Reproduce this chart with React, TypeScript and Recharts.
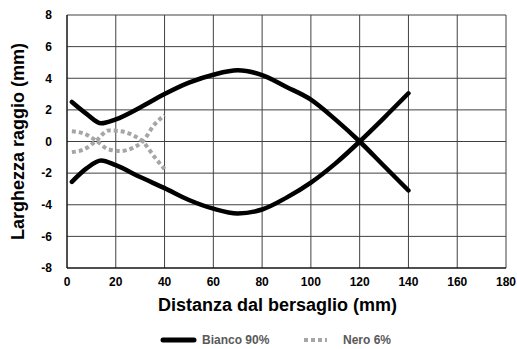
import { CartesianGrid, Label, Legend, Line, LineChart, XAxis, YAxis } from 'recharts'

const distanzaBianco = [2, 8, 14, 20, 30, 40, 50, 60, 70, 80, 90, 100, 110, 120, 130, 140]
const biancoSopra = [2.5, 1.75, 1.15, 1.4, 2.15, 3.0, 3.72, 4.22, 4.5, 4.2, 3.45, 2.65, 1.4, 0, -1.55, -3.1]
const biancoSotto = [-2.55, -1.7, -1.2, -1.5, -2.25, -2.95, -3.7, -4.25, -4.55, -4.3, -3.55, -2.6, -1.4, 0, 1.5, 3.05]

const distanzaNero = [2, 7, 12, 17, 22, 27, 31, 36, 40]
const neroA = [0.65, 0.5, 0.05, -0.5, -0.6, -0.4, 0, 1.1, 1.65]
const neroB = [-0.67, -0.5, 0.05, 0.7, 0.65, 0.4, 0, -1.0, -1.75]

const xTicks = [0, 20, 40, 60, 80, 100, 120, 140, 160, 180]
const yTicks = [-8, -6, -4, -2, 0, 2, 4, 6, 8]

const toRows = (xs: number[], ys: number[]) => xs.map((x, i) => ({ x, y: ys[i] }))

const font = '"Liberation Sans", Arial, sans-serif'
const tickStyle = { fill: '#000', fontSize: 12, fontWeight: 700, fontFamily: font }
const grey = '#a6a6a6'

function ChartLegend() {
  const text = { fill: '#595959', fontSize: 12, fontWeight: 700, fontFamily: font }
  return <svg width={517} height={20} style={{ display: 'block' }}>
    <line x1={163} y1={10} x2={194} y2={10} stroke="#000" strokeWidth={5} strokeLinecap="round" />
    <text x={202} y={14} style={text}>Bianco 90%</text>
    <line x1={304} y1={10} x2={327} y2={10} stroke={grey} strokeWidth={4} strokeDasharray="4 3" />
    <text x={343} y={14} style={text}>Nero 6%</text>
  </svg>
}

export default function App() {
  return <div style={{ position: 'fixed', left: 0, top: 0, width: 517, height: 349, background: '#fff' }}>
    <LineChart width={517} height={349} margin={{ top: 15, right: 11, bottom: 31, left: 0 }}>
      <CartesianGrid stroke="#404040" strokeWidth={1} />
      <XAxis
        type="number"
        dataKey="x"
        domain={[0, 180]}
        ticks={xTicks}
        interval={0}
        height={30}
        tickLine={false}
        tickMargin={3}
        stroke="#000"
        tick={tickStyle}
        allowDataOverflow
      >
        <Label
          value="Distanza dal bersaglio (mm)"
          position="insideBottom"
          offset={-13}
          dx={-9}
          style={{ fill: '#000', fontSize: 18, fontWeight: 700, fontFamily: font }}
        />
      </XAxis>
      <YAxis
        type="number"
        domain={[-8, 8]}
        ticks={yTicks}
        interval={0}
        width={67}
        tickLine={false}
        tickMargin={9}
        stroke="#000"
        tick={tickStyle}
        allowDataOverflow
      >
        <Label
          value="Larghezza raggio (mm)"
          angle={-90}
          position="insideLeft"
          offset={18}
          style={{ fill: '#000', fontSize: 18, fontWeight: 700, fontFamily: font, textAnchor: 'middle' }}
        />
      </YAxis>
      <Legend height={20} wrapperStyle={{ top: 330, left: 0, width: 517 }} content={() => <ChartLegend />} />
      <Line data={toRows(distanzaBianco, biancoSopra)} dataKey="y" name="Bianco 90%" type="monotone" stroke="#000" strokeWidth={4.5} strokeLinecap="round" dot={false} activeDot={false} isAnimationActive={false} />
      <Line data={toRows(distanzaBianco, biancoSotto)} dataKey="y" name="Bianco 90% " type="monotone" stroke="#000" strokeWidth={4.5} strokeLinecap="round" dot={false} activeDot={false} legendType="none" isAnimationActive={false} />
      <Line data={toRows(distanzaNero, neroA)} dataKey="y" name="Nero 6%" type="monotone" stroke={grey} strokeWidth={4} strokeDasharray="4 3" dot={false} activeDot={false} isAnimationActive={false} />
      <Line data={toRows(distanzaNero, neroB)} dataKey="y" name="Nero 6% " type="monotone" stroke={grey} strokeWidth={4} strokeDasharray="4 3" dot={false} activeDot={false} legendType="none" isAnimationActive={false} />
    </LineChart>
  </div>
}
